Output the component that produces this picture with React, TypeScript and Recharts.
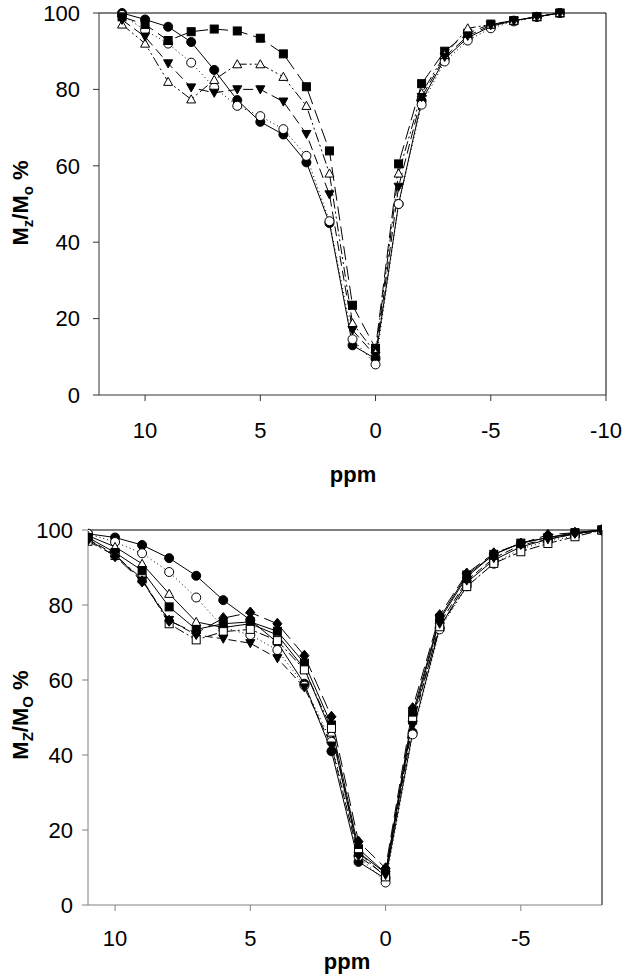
import React from "react";
import { LineChart, Line, XAxis, YAxis, ReferenceLine } from "recharts";

// ---- top panel data (ppm offsets, Mz/Mo %) ----
const ppmTop = [11, 10, 9, 8, 7, 6, 5, 4, 3, 2, 1, 0, -1, -2, -3, -4, -5, -6, -7, -8];
const topFilledCircle = [100, 98.3, 96.4, 92.4, 85.1, 77.2, 71.5, 68.2, 60.9, 45, 13, 9.5, 50, 77, 88, 93.5, 96.5, 98, 99, 100];
const topOpenCircle = [99.5, 95.5, 92, 87, 80.5, 75.7, 73, 69.6, 62.6, 45.5, 14.6, 8, 50, 76, 87.3, 92.8, 96, 97.8, 99, 100];
const topFilledSquare = [99, 97, 92.8, 95.1, 95.8, 95.3, 93.4, 89.3, 80.7, 63.9, 23.5, 12.2, 60.5, 81.5, 90, 94.7, 97.1, 98, 99, 100];
const topOpenTriangle = [97, 92, 82, 77.4, 82.5, 86.6, 86.6, 83.3, 75.7, 58, 18.8, 11, 58, 79, 89, 96, 97, 98, 99, 100];
const topFilledTriDown = [98.2, 93.8, 86.8, 80.5, 79.1, 80, 80, 76.8, 68.3, 52.5, 17, 10.2, 54.5, 78, 88.5, 94, 96.8, 98, 99, 100];

// ---- bottom panel data ----
const ppmBottom = [11, 10, 9, 8, 7, 6, 5, 4, 3, 2, 1, 0, -1, -2, -3, -4, -5, -6, -7, -8];
const botFilledCircle = [99, 98, 96, 92.5, 87.8, 81.3, 76, 70, 59, 41, 11.5, 7, 46, 74, 86, 92, 95.5, 97.5, 99, 100];
const botOpenCircle = [99, 96.8, 93.8, 88.8, 82, 74, 72, 68, 58.5, 43.5, 13, 6, 45.5, 73.5, 85, 91, 95, 97, 98.5, 100];
const botOpenTriangle = [98.5, 95.5, 91, 83, 75.5, 74, 75, 72, 63, 46, 14, 8.5, 50, 76, 87.5, 93.5, 96.5, 98, 99, 100];
const botFilledSquare = [98, 94, 89.2, 79.5, 73.5, 75, 75.5, 73, 64.5, 48, 15, 8.5, 51, 76.5, 88, 93.5, 96.5, 98, 99.3, 100];
const botFilledDiamond = [97.5, 93, 86.3, 75.8, 72.5, 76.5, 78, 75, 66.5, 50.2, 16.9, 9.8, 52.5, 77.3, 88.4, 93.8, 96.4, 98.7, 99.3, 100];
const botOpenSquare = [97, 93.2, 87, 75, 70.7, 72.9, 73.5, 70.5, 62.7, 47.1, 14, 7.5, 49.3, 74.2, 84.9, 91.1, 94.2, 96.4, 98.2, 100];
const botFilledTriDown = [97.5, 93.5, 86.5, 76, 72, 71, 69.8, 65.8, 58, 42.5, 13, 8, 48, 75, 86.5, 92.5, 96, 97.5, 99, 100];

const topTicksX = [10, 5, 0, -5, -10];
const bottomTicksX = [10, 5, 0, -5];
const ticksY = [0, 20, 40, 60, 80, 100];

const topData = ppmTop.map((ppm, i) => ({
  ppm,
  fc: topFilledCircle[i],
  oc: topOpenCircle[i],
  fs: topFilledSquare[i],
  ot: topOpenTriangle[i],
  td: topFilledTriDown[i],
}));

const bottomData = ppmBottom.map((ppm, i) => ({
  ppm,
  fc: botFilledCircle[i],
  oc: botOpenCircle[i],
  ot: botOpenTriangle[i],
  fs: botFilledSquare[i],
  fd: botFilledDiamond[i],
  os: botOpenSquare[i],
  td: botFilledTriDown[i],
}));

const tickFont = "'Liberation Sans Narrow', 'Liberation Sans', Arial, sans-serif";
const titleFont = "'Liberation Sans', Arial, sans-serif";

type Shape = "circle" | "square" | "triUp" | "triDown" | "diamond";

function marker(shape: Shape, filled: boolean, s = 4.5) {
  return (p: any) => {
    const { cx, cy, index } = p;
    if (cx == null || cy == null) return <g key={index} />;
    const fill = filled ? "#000" : "#fff";
    const common = { key: index, fill, stroke: "#000", strokeWidth: 1 };
    if (shape === "circle") return <circle {...common} cx={cx} cy={cy} r={s} />;
    if (shape === "square") return <rect {...common} x={cx - s + 0.5} y={cy - s + 0.5} width={2 * s - 1} height={2 * s - 1} />;
    if (shape === "diamond")
      return <path {...common} d={`M${cx},${cy - s - 1}L${cx + s},${cy}L${cx},${cy + s + 1}L${cx - s},${cy}Z`} />;
    if (shape === "triUp")
      return <path {...common} d={`M${cx},${cy - s}L${cx + s},${cy + s * 0.8}L${cx - s},${cy + s * 0.8}Z`} />;
    return <path {...common} d={`M${cx},${cy + s}L${cx + s},${cy - s * 0.8}L${cx - s},${cy - s * 0.8}Z`} />;
  };
}

function TopChart() {
  const axisColor = "#333";
  return (
    <LineChart width={626} height={500} data={topData} margin={{ top: 13, right: 20, left: 0, bottom: 0 }}>
      <XAxis
        type="number"
        dataKey="ppm"
        domain={[-10, 12]}
        reversed
        ticks={topTicksX}
        height={105}
        tickSize={6}
        tickMargin={21}
        stroke={axisColor}
        tick={{ fill: "#000", fontSize: 22, fontFamily: tickFont }}
        allowDataOverflow
      />
      <YAxis
        type="number"
        domain={[0, 100]}
        ticks={ticksY}
        width={99}
        tickSize={6}
        tickMargin={13}
        stroke={axisColor}
        tick={{ fill: "#000", fontSize: 22, fontFamily: tickFont }}
      />
      <ReferenceLine y={100} stroke="#000" strokeWidth={1} ifOverflow="visible" />
      <ReferenceLine x={-10} stroke="#000" strokeWidth={1} ifOverflow="visible" />
      <Line dataKey="fc" stroke="#000" strokeWidth={1} dot={marker("circle", true)} isAnimationActive={false} />
      <Line dataKey="oc" stroke="#000" strokeWidth={1} strokeDasharray="1 3" dot={marker("circle", false)} isAnimationActive={false} />
      <Line dataKey="fs" stroke="#000" strokeWidth={1} strokeDasharray="14 6" dot={marker("square", true)} isAnimationActive={false} />
      <Line dataKey="ot" stroke="#000" strokeWidth={1} strokeDasharray="10 3 2 3 2 3" dot={marker("triUp", false)} isAnimationActive={false} />
      <Line dataKey="td" stroke="#000" strokeWidth={1} strokeDasharray="10 5" dot={marker("triDown", true)} isAnimationActive={false} />
    </LineChart>
  );
}

function BottomChart() {
  const axisColor = "#808080";
  return (
    <LineChart width={626} height={477} data={bottomData} margin={{ top: 30, right: 24, left: 0, bottom: 0 }}>
      <XAxis
        type="number"
        dataKey="ppm"
        domain={[-8, 11]}
        reversed
        ticks={bottomTicksX}
        height={72}
        tickSize={6}
        tickMargin={19}
        stroke={axisColor}
        tick={{ fill: "#000", fontSize: 22, fontFamily: tickFont }}
        allowDataOverflow
      />
      <YAxis
        type="number"
        domain={[0, 100]}
        ticks={ticksY}
        width={88}
        tickSize={6}
        tickMargin={9}
        stroke={axisColor}
        tick={{ fill: "#000", fontSize: 22, fontFamily: tickFont }}
      />
      <ReferenceLine y={100} stroke="#000" strokeWidth={1} ifOverflow="visible" />
      <ReferenceLine x={-8} stroke="#000" strokeWidth={1} ifOverflow="visible" />
      <Line dataKey="fc" stroke="#000" strokeWidth={1} dot={marker("circle", true)} isAnimationActive={false} />
      <Line dataKey="oc" stroke="#000" strokeWidth={1} strokeDasharray="1 3" dot={marker("circle", false)} isAnimationActive={false} />
      <Line dataKey="ot" stroke="#000" strokeWidth={1} dot={marker("triUp", false)} isAnimationActive={false} />
      <Line dataKey="fs" stroke="#000" strokeWidth={1} dot={marker("square", true)} isAnimationActive={false} />
      <Line dataKey="os" stroke="#000" strokeWidth={1} strokeDasharray="10 3 2 3" dot={marker("square", false)} isAnimationActive={false} />
      <Line dataKey="td" stroke="#000" strokeWidth={1} strokeDasharray="8 4" dot={marker("triDown", true)} isAnimationActive={false} />
      <Line dataKey="fd" stroke="#000" strokeWidth={1} strokeDasharray="14 6" dot={marker("diamond", true)} isAnimationActive={false} />
    </LineChart>
  );
}

function YTitle({ x, y, sub }: { x: number; y: number; sub: [string, string] }) {
  return (
    <text
      transform={`translate(${x},${y}) rotate(-90)`}
      textAnchor="middle"
      fontFamily={titleFont}
      fontWeight="bold"
      fontSize={22}
      fill="#000"
    >
      M<tspan fontSize={15} dy={5}>{sub[0]}</tspan>
      <tspan dy={-5}>/M</tspan>
      <tspan fontSize={15} dy={5}>{sub[1]}</tspan>
      <tspan dy={-5}> %</tspan>
    </text>
  );
}

export default function App() {
  return (
    <div style={{ position: "absolute", left: 0, top: 0, width: 626, height: 977, background: "#fff" }}>
      <div style={{ position: "absolute", left: 0, top: 0 }}>
        <TopChart />
      </div>
      <div style={{ position: "absolute", left: 0, top: 500 }}>
        <BottomChart />
      </div>
      <svg width={626} height={977} style={{ position: "absolute", left: 0, top: 0, pointerEvents: "none" }}>
        <YTitle x={28} y={203} sub={["z", "o"]} />
        <YTitle x={28} y={715} sub={["Z", "O"]} />
        <text x={353} y={482} textAnchor="middle" fontFamily={titleFont} fontWeight="bold" fontSize={22} fill="#000">
          ppm
        </text>
        <text x={347} y={969} textAnchor="middle" fontFamily={titleFont} fontWeight="bold" fontSize={22} fill="#000">
          ppm
        </text>
      </svg>
    </div>
  );
}
